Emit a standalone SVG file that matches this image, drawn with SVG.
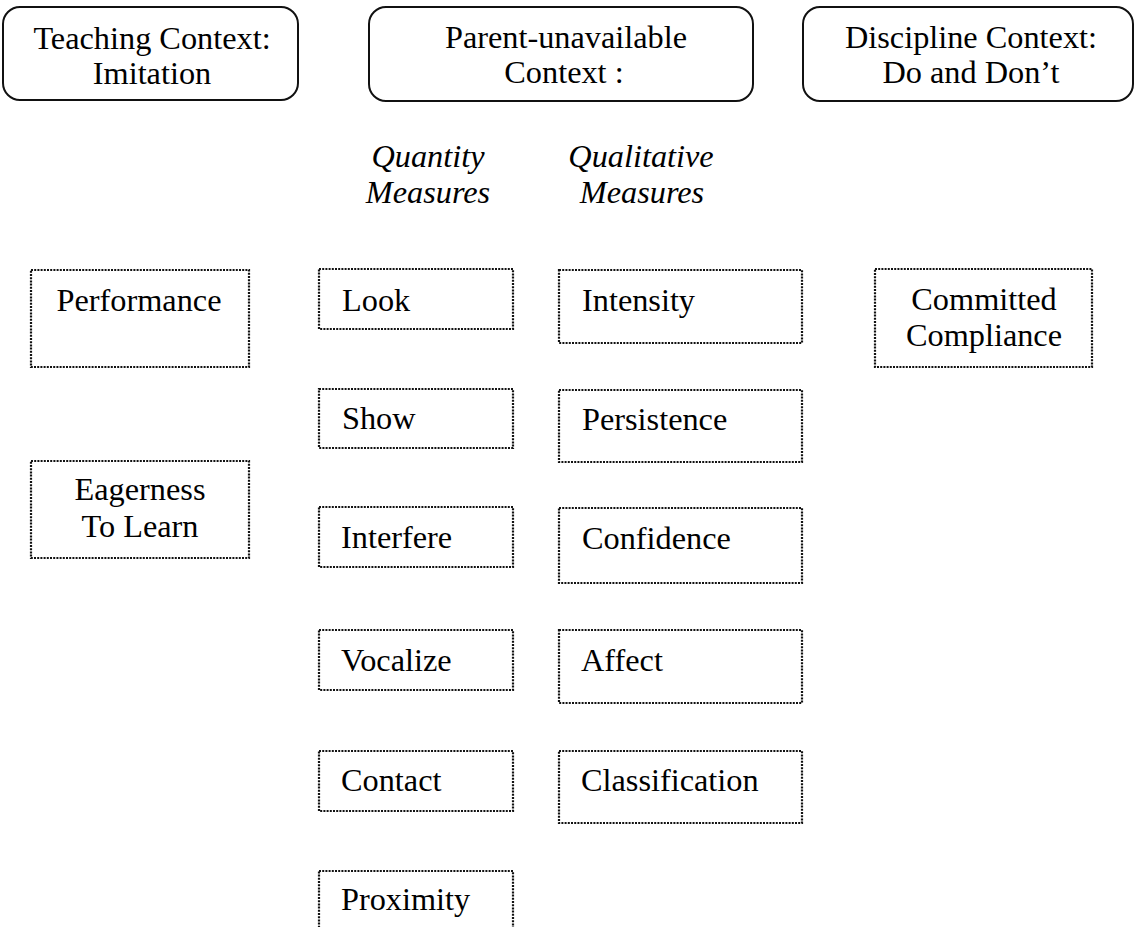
<svg xmlns="http://www.w3.org/2000/svg" width="1136" height="927" viewBox="0 0 1136 927">
<style>
  .ctx { fill: #fff; stroke: #111; stroke-width: 2; }
  .box { fill: #fff; stroke: #111; stroke-width: 2.2; stroke-dasharray: 2 1.2; }
  text { font-family: "Liberation Serif", "Times New Roman", serif; font-size: 32.3px; fill: #000; }
  .c { text-anchor: middle; }
  .it { font-style: italic; }
</style>
<rect width="1136" height="927" fill="#fff"/>
<g id="connectors"/>
<g id="ctx-teaching">
  <rect class="ctx" x="3" y="7" width="295" height="93" rx="17"/>
  <text class="c" x="152" y="49">Teaching Context:</text>
  <text class="c" x="152" y="84">Imitation</text>
</g>
<g id="ctx-parent">
  <rect class="ctx" x="369" y="7" width="384" height="94" rx="17"/>
  <text class="c" x="566" y="48">Parent-unavailable</text>
  <text class="c" x="564" y="83">Context :</text>
</g>
<g id="ctx-discipline">
  <rect class="ctx" x="803" y="7" width="330" height="94" rx="17"/>
  <text class="c" x="971" y="48">Discipline Context:</text>
  <text class="c" x="971" y="83">Do and Don’t</text>
</g>
<g id="label-quantity">
  <text class="c it" x="428" y="167">Quantity</text>
  <text class="c it" x="428" y="203">Measures</text>
</g>
<g id="label-qualitative">
  <text class="c it" x="641" y="167">Qualitative</text>
  <text class="c it" x="642" y="203">Measures</text>
</g>
<g id="performance">
  <rect class="box" x="31" y="270" width="218" height="97"/>
  <text class="c" x="139" y="311">Performance</text>
</g>
<g id="eagerness">
  <rect class="box" x="31" y="461" width="218" height="97"/>
  <text class="c" x="140" y="500">Eagerness</text>
  <text class="c" x="140" y="537">To Learn</text>
</g>
<g id="look">
  <rect class="box" x="319" y="269" width="194" height="60"/>
  <text x="342" y="311">Look</text>
</g>
<g id="show">
  <rect class="box" x="319" y="389" width="194" height="59"/>
  <text x="342" y="429">Show</text>
</g>
<g id="interfere">
  <rect class="box" x="319" y="507" width="194" height="60"/>
  <text x="341" y="548">Interfere</text>
</g>
<g id="vocalize">
  <rect class="box" x="319" y="630" width="194" height="60"/>
  <text x="341" y="671">Vocalize</text>
</g>
<g id="contact">
  <rect class="box" x="319" y="751" width="194" height="60"/>
  <text x="341" y="791">Contact</text>
</g>
<g id="proximity">
  <rect class="box" x="319" y="871" width="194" height="60"/>
  <text x="341" y="910">Proximity</text>
</g>
<g id="intensity">
  <rect class="box" x="559" y="270" width="243" height="73"/>
  <text x="582" y="311">Intensity</text>
</g>
<g id="persistence">
  <rect class="box" x="559" y="390" width="243" height="72"/>
  <text x="582" y="430">Persistence</text>
</g>
<g id="confidence">
  <rect class="box" x="559" y="508" width="243" height="75"/>
  <text x="582" y="549">Confidence</text>
</g>
<g id="affect">
  <rect class="box" x="559" y="630" width="243" height="73"/>
  <text x="581" y="671">Affect</text>
</g>
<g id="classification">
  <rect class="box" x="559" y="751" width="243" height="72"/>
  <text x="581" y="791">Classification</text>
</g>
<g id="committed">
  <rect class="box" x="875" y="269" width="217" height="98"/>
  <text class="c" x="984" y="310">Committed</text>
  <text class="c" x="984" y="346">Compliance</text>
</g>
</svg>
